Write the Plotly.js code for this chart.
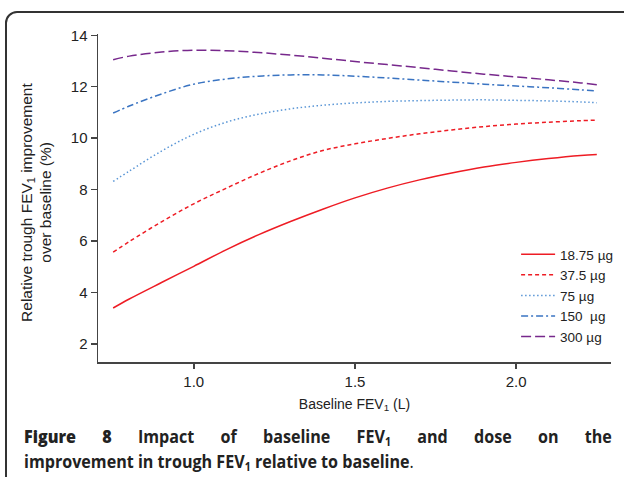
<!DOCTYPE html>
<html>
<head>
<meta charset="utf-8">
<script src="https://cdn.plot.ly/plotly-3.0.1.min.js"></script>
<style>
  html, body { margin: 0; padding: 0; width: 624px; height: 477px; overflow: hidden; background: #fff; }
  #frame { position: absolute; left: 5px; top: 11px; width: 660px; height: 520px; border: 2px solid #333; border-radius: 12px; box-sizing: border-box; }
  #chart { position: absolute; left: 0; top: 0; width: 624px; height: 477px; }
  .cap { position: absolute; left: 24px; width: 639px; font-family: "Open Sans", sans-serif; font-weight: 700; font-size: 17.5px; line-height: 24px; color: #222; white-space: nowrap; transform: scaleX(0.92); transform-origin: 0 0; }
  #cap1 { top: 424px; text-align: justify; text-align-last: justify; }
  #cap2 { top: 449px; }
  .cap sub { font-size: 11.5px; vertical-align: -3px; line-height: 0; }
</style>
</head>
<body>
<div id="frame"></div>
<div id="chart"></div>
<div class="cap" id="cap1"><span style="font-weight:800">Figure 8</span> Impact of baseline FEV<sub>1</sub> and dose on the</div>
<div class="cap" id="cap2">improvement in trough FEV<sub>1</sub> relative to baseline<span style="font-weight:400">.</span></div>
<script>
// Baseline FEV1 (L)
const baselineFEV1 = [0.75, 0.8, 0.9, 1.0, 1.1, 1.2, 1.3, 1.4, 1.5, 1.6, 1.7, 1.8, 1.9, 2.0, 2.1, 2.2, 2.25];
// Relative trough FEV1 improvement over baseline (%) by dose
const dose18_75 = [3.40, 3.75, 4.39, 5.02, 5.66, 6.24, 6.76, 7.24, 7.68, 8.06, 8.38, 8.65, 8.88, 9.06, 9.21, 9.33, 9.37];
const dose37_5  = [5.57, 5.98, 6.75, 7.45, 8.05, 8.62, 9.12, 9.52, 9.78, 9.99, 10.17, 10.32, 10.45, 10.55, 10.62, 10.68, 10.70];
const dose75    = [8.32, 8.72, 9.50, 10.15, 10.62, 10.93, 11.14, 11.28, 11.37, 11.43, 11.46, 11.48, 11.49, 11.47, 11.45, 11.41, 11.38];
const dose150   = [10.98, 11.25, 11.72, 12.10, 12.30, 12.41, 12.46, 12.46, 12.41, 12.34, 12.26, 12.18, 12.10, 12.03, 11.96, 11.88, 11.83];
const dose300   = [13.05, 13.19, 13.35, 13.42, 13.40, 13.33, 13.23, 13.11, 12.98, 12.86, 12.74, 12.61, 12.49, 12.38, 12.27, 12.15, 12.08];
const seriesNames = ["18.75 µg", "37.5 µg", "75 µg", "150\u00a0 µg", "300 µg"];
const xTickVals = [1.0, 1.5, 2.0];
const yTickVals = [2, 4, 6, 8, 10, 12, 14];
const yTitleLines = ["Relative trough FEV<sub>1</sub> improvement", "over baseline (%)"];

const series = [dose18_75, dose37_5, dose75, dose150, dose300];
const styles = [
  {color: "#ee1c24", dash: "solid", width: 1.5},
  {color: "#ee1c24", dash: "4px,3px", width: 1.5},
  {color: "#5a96d6", dash: "1.5px,2.5px", width: 1.5},
  {color: "#3a74c2", dash: "7px,3px,2px,3px", width: 1.5},
  {color: "#77288c", dash: "10px,4px", width: 1.5}
];
const traces = series.map((ys, i) => ({
  x: baselineFEV1, y: ys, name: seriesNames[i], type: "scatter", mode: "lines",
  line: Object.assign({shape: "spline", smoothing: 1.0}, styles[i])
}));

const fam = "Liberation Sans, Arial, sans-serif";
const axisFont = {family: fam, size: 15, color: "#222"};
const layout = {
  width: 624, height: 477,
  paper_bgcolor: "rgba(0,0,0,0)", plot_bgcolor: "rgba(0,0,0,0)",
  margin: {l: 98, r: 6, t: 34, b: 115},
  showlegend: true,
  legend: {x: 0.815, y: 0.375, xanchor: "left", yanchor: "top", bgcolor: "rgba(0,0,0,0)",
           itemwidth: 34, font: {family: fam, size: 13.5, color: "#222"}, tracegroupgap: 0},
  xaxis: {
    range: [0.703, 2.294], tickvals: xTickVals, tickformat: ".1f",
    showline: true, linecolor: "#444", linewidth: 1.5, ticks: "outside", ticklen: 5, tickwidth: 1.5, tickcolor: "#444",
    showgrid: false, zeroline: false, tickfont: axisFont,
    title: {text: "Baseline FEV<sub>1</sub> (L)", font: {family: fam, size: 14, color: "#222"}, standoff: 10}
  },
  yaxis: {
    range: [1.3, 14.05], tickvals: yTickVals,
    showline: true, linecolor: "#444", linewidth: 1.5, ticks: "outside", ticklen: 6, tickwidth: 1.5, tickcolor: "#444",
    showgrid: false, zeroline: false, tickfont: axisFont
  },
  annotations: [
    {text: yTitleLines[0], xref: "paper", yref: "paper", x: (27 - 98) / 520, y: 0.488, textangle: -90,
     xanchor: "center", yanchor: "middle", showarrow: false, font: {family: fam, size: 15.5, color: "#222"}},
    {text: yTitleLines[1], xref: "paper", yref: "paper", x: (45 - 98) / 520, y: 0.488, textangle: -90,
     xanchor: "center", yanchor: "middle", showarrow: false, font: {family: fam, size: 15.5, color: "#222"}}
  ]
};
Plotly.newPlot("chart", traces, layout, {displayModeBar: false, staticPlot: true});
</script>
</body>
</html>
